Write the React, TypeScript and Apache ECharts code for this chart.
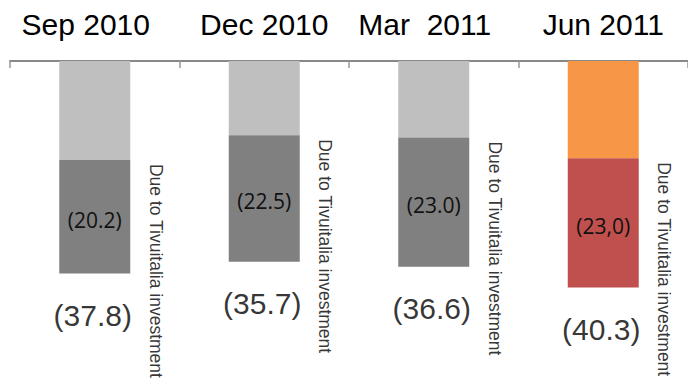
import React, { useEffect, useRef } from "react";
import * as echarts from "echarts";

const categories = ["Sep 2010", "Dec 2010", "Mar  2011", "Jun 2011"];
const totals = [37.8, 35.7, 36.6, 40.3];
const attributed = [20.2, 22.5, 23.0, 23.0];
const innerLabels = ["(20.2)", "(22.5)", "(23.0)", "(23,0)"];
const totalLabels = ["(37.8)", "(35.7)", "(36.6)", "(40.3)"];
const noteText = "Due to Tivuitalia investment";
const highlightIndex = 3;

const NARROW = "'Liberation Sans Narrow', 'Arial Narrow', 'Liberation Sans', Arial, sans-serif";

export default function App() {
  const ref = useRef<HTMLDivElement>(null);
  useEffect(() => {
    if (!ref.current) return;
    const chart = echarts.init(ref.current, undefined, { renderer: "svg" });
    const rest = totals.map((t, i) => +(t - attributed[i]).toFixed(1));
    chart.setOption({
      animation: false,
      grid: { left: 10, right: -6, top: 61, bottom: 41 },
      xAxis: {
        type: "category",
        position: "top",
        data: categories.map((c, i) => ({
          value: c,
          textStyle: i === 0 || i === 2 ? { padding: [0, 18, 0, 0] } : {},
        })),
        axisLine: { lineStyle: { color: "#888888", width: 2 } },
        axisTick: { show: true, inside: true, length: 7, lineStyle: { color: "#999999", width: 1.5 } },
        axisLabel: {
          interval: 0,
          hideOverlap: false,
          fontFamily: NARROW,
          fontSize: 30,
          color: "#000",
          margin: 22,
        },
      },
      yAxis: {
        type: "value",
        inverse: true,
        min: 0,
        max: 50,
        show: false,
        splitLine: { show: false },
      },
      series: [
        {
          type: "bar",
          stack: "s",
          barWidth: 71,
          data: rest.map((v, i) => ({
            value: v,
            itemStyle: { color: i === highlightIndex ? "#F79646" : "#BFBFBF" },
          })),
        },
        {
          type: "bar",
          stack: "s",
          barWidth: 71,
          data: attributed.map((v, i) => ({
            value: v,
            itemStyle: { color: i === highlightIndex ? "#C0504D" : "#808080" },
          })),
          label: {
            show: true,
            position: "inside",
            offset: [0, 3],
            fontFamily: "'Open Sans', sans-serif",
            fontSize: 21,
            color: "#111",
            formatter: (p: any) => innerLabels[p.dataIndex],
          },
        },
        {
          type: "scatter",
          symbolSize: 0.1,
          symbolOffset: [61, 4],
          itemStyle: { color: "transparent" },
          data: rest.map((v, i) => [i, v]),
          label: {
            show: true,
            position: "inside",
            rotate: -90,
            align: "left",
            verticalAlign: "middle",
            fontFamily: NARROW,
            fontSize: 17.5,
            color: "#000",
            formatter: () => noteText,
          },
        },
        {
          type: "scatter",
          symbolSize: 0.1,
          itemStyle: { color: "transparent" },
          data: totals.map((v, i) => [i, v]),
          label: {
            show: true,
            position: "inside",
            offset: [-2, 42],
            fontFamily: NARROW,
            fontSize: 30,
            color: "#000",
            formatter: (p: any) => totalLabels[p.dataIndex],
          },
        },
      ],
    });
    return () => chart.dispose();
  }, []);
  return (
    <div
      ref={ref}
      style={{ position: "fixed", left: 0, top: 0, width: 688, height: 383, background: "#fff" }}
    />
  );
}
